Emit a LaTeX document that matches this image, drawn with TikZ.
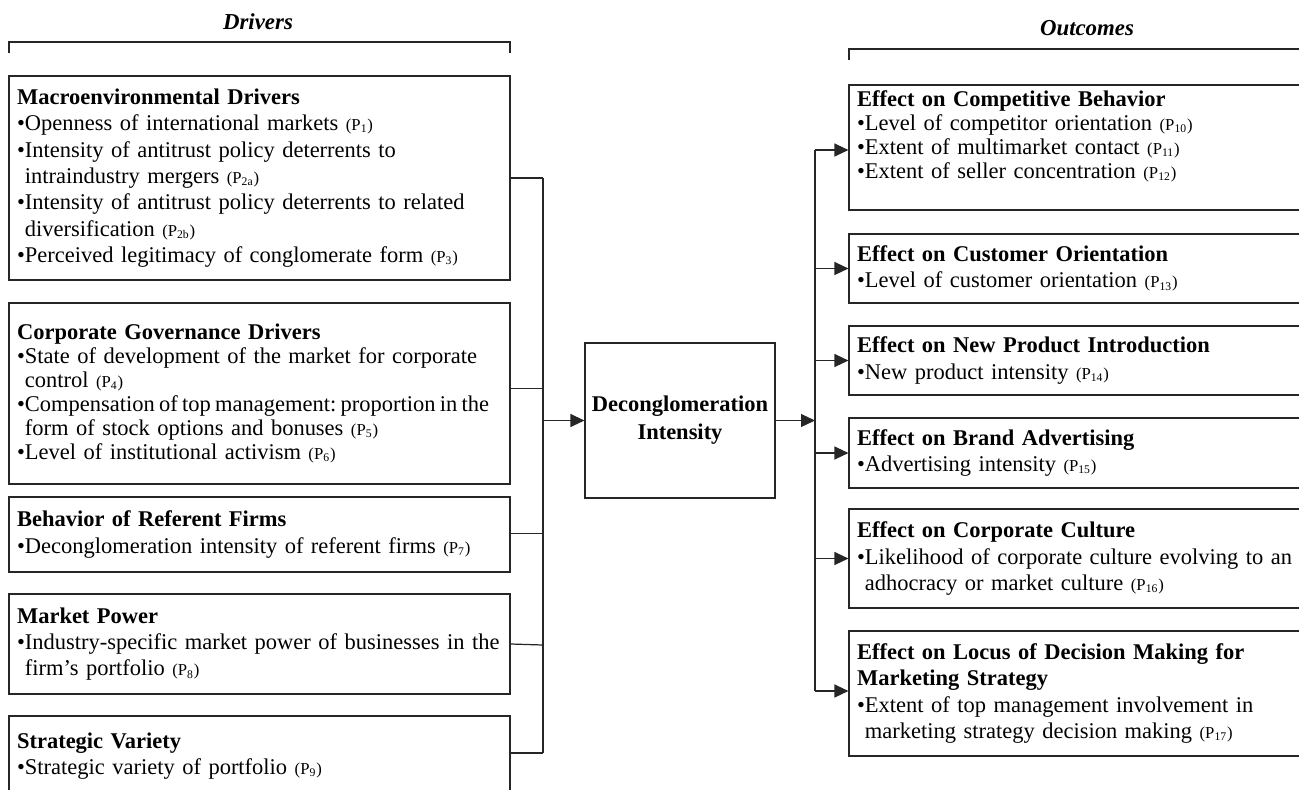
\documentclass[tikz,border=0pt]{standalone}
\usepackage{fontspec}
\setmainfont{Liberation Serif}
\usetikzlibrary{arrows.meta,calc}
\frenchspacing
\newcommand\pl[1]{{\fontsize{9.5}{10}\selectfont(P\textsubscript{#1})}}
\newcommand\hd[1]{{\bfseries #1}}
\newcommand\ind{\phantom{\textbullet}}
\newcommand\dropstrut[1]{\rule[-#1]{0pt}{#1}}
\newcommand\snug[1]{\mbox{\spaceskip=0.19em plus 0.05em\relax #1}}
\begin{document}
\begin{tikzpicture}[x=0.02cm,y=-0.02cm,
  ibox/.style={draw=black!85, line width=0.7pt, inner xsep=0.16cm, inner ysep=0pt,
    text width=9.70cm, align=left, font=\fontsize{12.8}{15}\selectfont},
  tight/.style={font=\fontsize{12.8}{13.6}\selectfont},
  dbox/.style={draw=black!85, line width=0.7pt, inner sep=0pt, align=center,
    minimum width=3.8cm, minimum height=3.1cm, font=\fontsize{12.8}{16}\selectfont\bfseries},
  conn/.style={draw=black!85, line width=0.7pt},
  arr/.style={conn, -{Triangle[length=0.28cm,width=0.26cm]}},
  hdr/.style={inner sep=0pt, font=\fontsize{13}{15}\selectfont\bfseries\itshape}]

\useasboundingbox (0,0) rectangle (1299,789);
\clip (0,0) rectangle (1299,789);

% headers and brackets
\node[hdr] (hdrL) at (258,22) {Drivers};
\node[hdr] (hdrR) at (1087,28) {Outcomes};
\coordinate (brL1) at (9,53);
\coordinate (brL2) at (510,53);
\coordinate (brR1) at (849,60);
\coordinate (brR2) at (1350,60);
\draw[conn] (brL1) -- ++(0,-11) -| (brL2);
\draw[conn] (brR1) -- ++(0,-11) -| (brR2);

% left boxes
\node[ibox, minimum height=4.08cm] (L1) at (259.5,178) {%
\hd{Macroenvironmental Drivers}\\
\textbullet Openness of international markets \pl{1}\\
\textbullet Intensity of antitrust policy deterrents to\\
\ind intraindustry mergers \pl{2a}\\
\textbullet Intensity of antitrust policy deterrents to related\\
\ind diversification \pl{2b}\\
\textbullet Perceived legitimacy of conglomerate form \pl{3}};

\node[ibox, tight, minimum height=3.62cm] (L2) at (259.5,393.5) {%
\hd{Corporate Governance Drivers}\\
\textbullet State of development of the market for corporate\\
\ind control \pl{4}\\
\snug{\textbullet Compensation of top management: proportion in the}\\
\ind form of stock options and bonuses \pl{5}\\
\textbullet Level of institutional activism \pl{6}};

\node[ibox, minimum height=1.5cm] (L3) at (259.5,534.5) {%
\hd{Behavior of Referent Firms}\\
\textbullet Deconglomeration intensity of referent firms \pl{7}};

\node[ibox, minimum height=2.0cm] (L4) at (259.5,644) {%
\hd{Market Power}\\
\textbullet Industry-specific market power of businesses in the\\
\ind firm’s portfolio \pl{8}};

\node[ibox, minimum height=1.6cm] (L5) at (259.5,756) {%
\hd{Strategic Variety}\\
\textbullet Strategic variety of portfolio \pl{9}};

% centre box
\node[dbox] (D) at (680,420.5) {Deconglomeration\\Intensity};

% right boxes
\node[ibox, tight, minimum height=2.5cm] (R1) at (1099.5,147.5) {%
\hd{Effect on Competitive Behavior}\\
\textbullet Level of competitor orientation \pl{10}\\
\textbullet Extent of multimarket contact \pl{11}\\
\textbullet Extent of seller concentration \pl{12}\dropstrut{15pt}};

\node[ibox, minimum height=1.38cm] (R2) at (1099.5,268.5) {%
\hd{Effect on Customer Orientation}\\
\textbullet Level of customer orientation \pl{13}};

\node[ibox, minimum height=1.38cm] (R3) at (1099.5,360.5) {%
\hd{Effect on New Product Introduction}\\
\textbullet New product intensity \pl{14}};

\node[ibox, minimum height=1.4cm] (R4) at (1099.5,453) {%
\hd{Effect on Brand Advertising}\\
\textbullet Advertising intensity \pl{15}};

\node[ibox, minimum height=1.98cm] (R5) at (1099.5,558.5) {%
\hd{Effect on Corporate Culture}\\
\textbullet Likelihood of corporate culture evolving to an\\
\ind adhocracy or market culture \pl{16}};

\node[ibox, minimum height=2.5cm] (R6) at (1099.5,693.5) {%
\hd{Effect on Locus of Decision Making for}\\
\hd{Marketing Strategy}\\
\textbullet Extent of top management involvement in\\
\ind marketing strategy decision making \pl{17}};

% buses
\coordinate (busL) at (543,0);
\coordinate (busR) at (815,0);

\coordinate (jL1) at ($(L1.east -| busL)$);
\coordinate (jL2) at ($(L2.east -| busL)+(0,-5)$);
\coordinate (jL3) at ($(L3.east -| busL)+(0,-1)$);
\coordinate (jL4) at ($(L4.east -| busL)+(0,1)$);
\coordinate (jL5) at ($(L5.east -| busL)+(0,-3)$);

\draw[conn] (L1.east) -- (jL1);
\draw[conn] ($(L2.east)+(0,-5)$) -- (jL2);
\draw[conn] ($(L3.east)+(0,-1)$) -- (jL3);
\draw[conn] (L4.east) -- (jL4);
\draw[conn] ($(L5.east)+(0,-3)$) -- (jL5);
\draw[conn] (jL1) -- (jL5);

\draw[arr] (D.west -| busL) -- (D.west);
\draw[arr] (D.east) -- (D.east -| busR);

\coordinate (jR1) at ($(R1.west -| busR)+(0,2.5)$);
\coordinate (jR6) at ($(R6.west -| busR)+(0,-2.5)$);
\draw[conn] (jR1) -- (jR6);
\draw[arr] (jR1) -- ($(R1.west)+(0,2.5)$);
\draw[arr] (R2.west -| busR) -- (R2.west);
\draw[arr] (R3.west -| busR) -- (R3.west);
\draw[arr] (R4.west -| busR) -- (R4.west);
\draw[arr] (R5.west -| busR) -- (R5.west);
\draw[arr] (jR6) -- ($(R6.west)+(0,-2.5)$);
\end{tikzpicture}
\end{document}
